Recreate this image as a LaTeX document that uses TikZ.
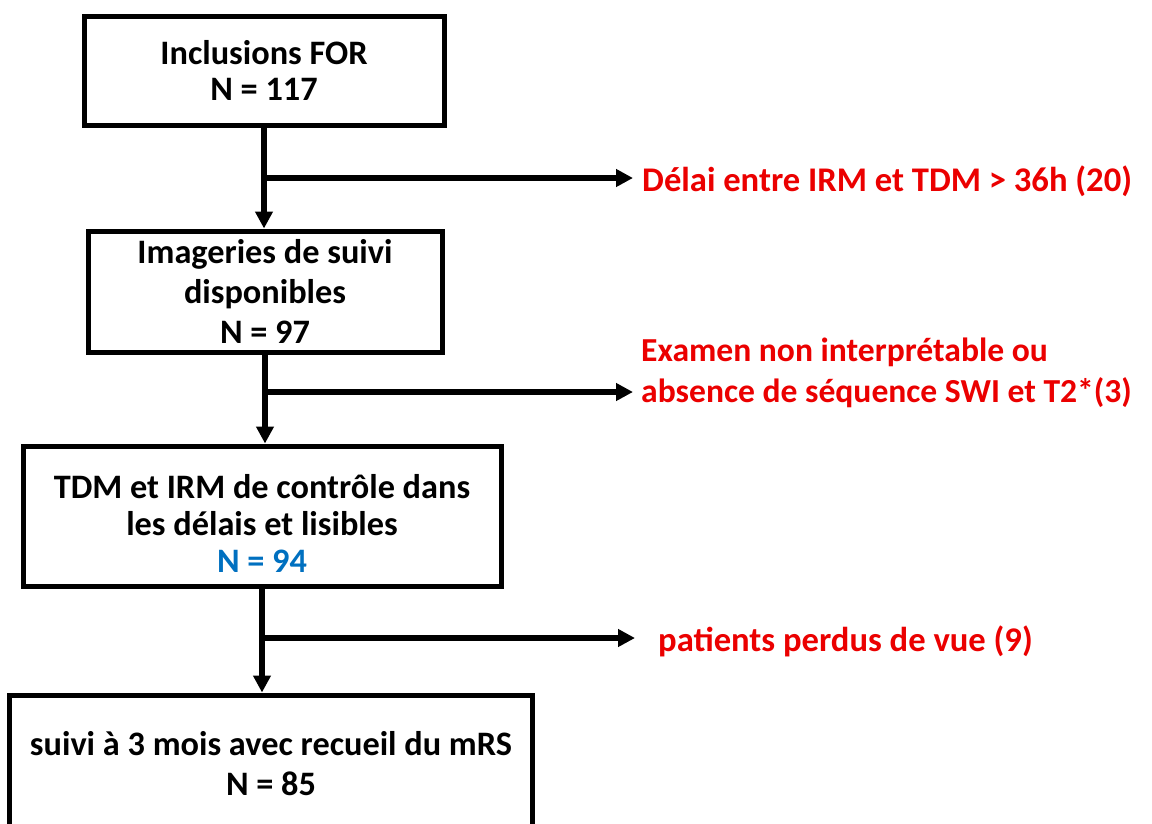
\documentclass[tikz,border=0pt]{standalone}
\usepackage{fontspec}
\setmainfont{Carlito}
\usetikzlibrary{arrows.meta}
\definecolor{exred}{RGB}{235,0,0}
\definecolor{nblue}{RGB}{0,112,192}
\begin{document}
\begin{tikzpicture}[x=1pt,y=-1pt,
  box/.style={draw=black, line width=5pt, inner sep=0pt, align=center,
    font=\bfseries\fontsize{34.3}{40}\selectfont},
  excl/.style={text=exred, anchor=west, inner sep=0pt, align=left,
    font=\bfseries\fontsize{34.6}{41}\selectfont},
  flow/.style={line width=5.5pt, -{Triangle[length=17pt,width=17pt]}}]
\useasboundingbox (0,0) rectangle (1152,823);
\fill[white] (0,0) rectangle (1152,823);

\node[box, minimum width=360pt, minimum height=109pt,
  font=\bfseries\fontsize{34.3}{36}\selectfont] (n1) at (264,70.5)
  {Inclusions FOR\\N = 117};
\node[box, minimum width=354pt, minimum height=121pt] (n2) at (265,291.5)
  {Imageries de suivi\\disponibles\\N = 97};
\node[box, minimum width=478pt, minimum height=140pt,
  font=\bfseries\fontsize{34.3}{37}\selectfont] (n3) at (262,516)
  {\rule{0pt}{38pt}TDM et IRM de contrôle dans\\les délais et lisibles\\{\color{nblue}N = 94}};
\node[box, minimum width=523pt, minimum height=138pt] (n4) at (271,764)
  {suivi à 3 mois avec recueil du mRS\\N = 85};

\node[excl] (e1) at (642,181) {Délai entre IRM et TDM > 36h (20)};
\node[excl, font=\bfseries\fontsize{33.6}{41}\selectfont] (e2) at (641,373)
  {Examen non interprétable ou\\absence de séquence SWI et T2*(3)};
\node[excl] (e3) at (658,641) {patients perdus de vue (9)};

\draw[flow] (n1.south) -- (n1.south |- n2.north);
\draw[flow] (n2.south) -- (n2.south |- n3.north);
\draw[flow] (n3.south) -- (n3.south |- n4.north);

\coordinate (b1) at (264,178);
\coordinate (b2) at (265,392);
\coordinate (b3) at (262,638);
\draw[flow, shorten >=9pt] (b1) -- (b1 -| e1.west);
\draw[flow, shorten >=8pt] (b2) -- (b2 -| e2.west);
\draw[flow, shorten >=23pt] (b3) -- (b3 -| e3.west);
\end{tikzpicture}
\end{document}
